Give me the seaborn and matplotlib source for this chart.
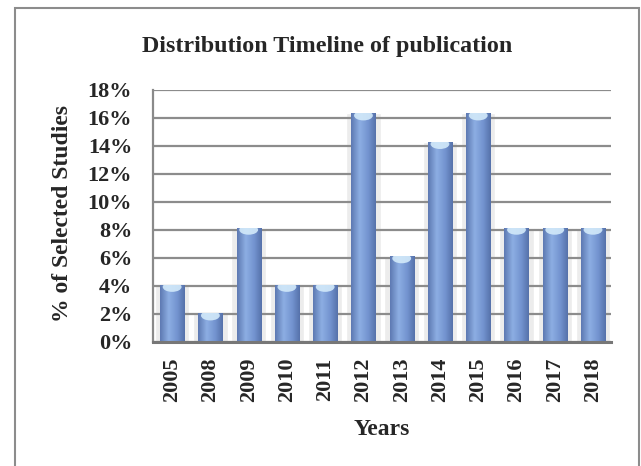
import numpy as np
import pandas as pd
import seaborn as sns
import matplotlib.pyplot as plt
from matplotlib.patches import Rectangle, Ellipse
from matplotlib.colors import LinearSegmentedColormap

sns.set_style(style='white')
plt.rcParams['font.family'] = ['Liberation Serif', 'DejaVu Serif']

# share of selected studies per year (49 studies in total)
years = ['2005', '2008', '2009', '2010', '2011', '2012', '2013', '2014', '2015', '2016', '2017', '2018']
counts = [2, 1, 4, 2, 2, 8, 3, 7, 8, 4, 4, 4]
total = 49
pct = [c / total * 100 for c in counts]

df = pd.DataFrame({'Year': years, 'Pct': pct})

fig = plt.figure(figsize=(6.41, 4.66), dpi=100)
ax = fig.add_axes([0.2387, 0.2661, 0.7145, 0.5408])

sns.barplot(data=df, x='Year', y='Pct', color='#6f8ecb', width=0.63,
            edgecolor='none', linewidth=0, saturation=1, ax=ax, zorder=3)
bars = list(ax.patches)

# soft grey shadow behind each column (3-D look)
ax.bar(np.arange(len(years)), df['Pct'], width=0.9, color='#ececec', zorder=1)

# cylinder shading: horizontal gradient + light top cap
cmap = LinearSegmentedColormap.from_list(
    'cyl', [(0, '#5d79b2'), (0.35, '#8daee3'), (0.7, '#7393cf'), (1, '#5672aa')])
grad = np.linspace(0, 1, 64).reshape(1, -1)
for b in bars:
    x, w, h = b.get_x(), b.get_width(), b.get_height()
    im = ax.imshow(grad, cmap=cmap, extent=[x, x + w, 0, h], aspect='auto',
                   origin='lower', zorder=3.2, interpolation='bicubic')
    im.set_clip_path(b)
    cap = Ellipse((x + w / 2, h - 0.15), w * 0.78, 0.7, facecolor='#d3eafa',
                  edgecolor='none', alpha=0.9, zorder=3.5)
    ax.add_patch(cap)
    cap.set_clip_path(b)

ax.set_xlim(-0.5, len(years) - 0.53)
ax.set_ylim(0, 18)
ax.set_yticks(np.arange(0, 19, 2))
ax.set_yticklabels([f'{v}%' for v in range(0, 19, 2)])
ax.yaxis.grid(True, color='#8c8c8c', linewidth=1.6)
ax.set_axisbelow('line')
for s in ['top', 'right']:
    ax.spines[s].set_visible(False)
ax.spines['left'].set_color('#8a8a8a')
ax.spines['bottom'].set_color('#777777')
ax.spines['left'].set_linewidth(1.6)
ax.spines['bottom'].set_linewidth(2.2)
ax.spines['left'].set_zorder(5)
ax.spines['bottom'].set_zorder(5)

ax.tick_params(axis='x', labelrotation=90, labelsize=16, length=0, pad=11)
ax.tick_params(axis='y', labelsize=16, length=0, pad=15)
for lab in ax.get_xticklabels() + ax.get_yticklabels():
    lab.set_fontweight('bold')

ax.set_xlabel('')
ax.set_ylabel('')
ax.text(0.5, -0.369, 'Years', transform=ax.transAxes, ha='center', va='baseline',
        fontsize=17, fontweight='bold')
fig.text(0.097, 0.541, '% of Selected Studies', rotation=90, ha='center', va='center',
         fontsize=17, fontweight='bold')
fig.text(0.510, 0.888, 'Distribution Timeline of publication', ha='center', va='baseline',
         fontsize=17.3, fontweight='bold')

fig.patches.append(Rectangle((0.0234, -0.05), 0.9735, 1.033, transform=fig.transFigure,
                             fill=False, edgecolor='#8c8c8c', linewidth=1.5))

fig.savefig('out.png', dpi=100)
